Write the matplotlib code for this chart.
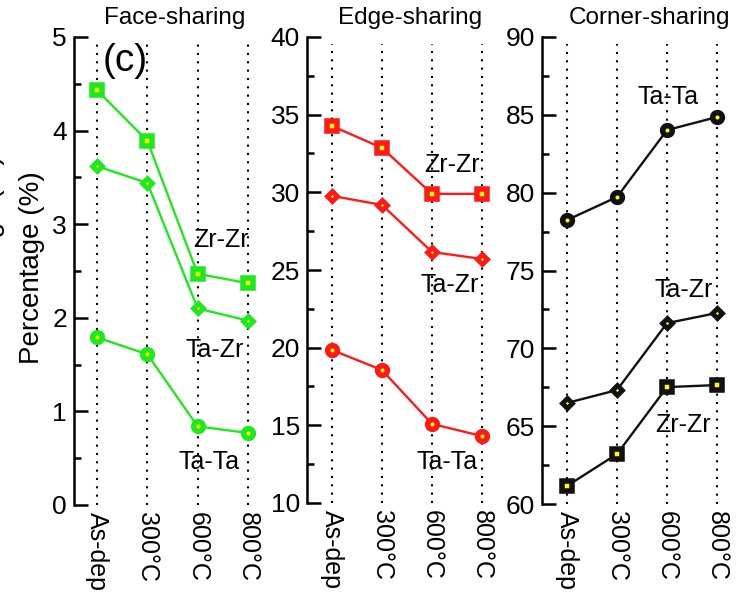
import matplotlib
matplotlib.use("Agg")
import matplotlib.pyplot as plt
from matplotlib.ticker import MultipleLocator

plt.rcParams["font.family"] = ["Liberation Sans", "DejaVu Sans"]

"""
values read off the reference figure
"""

stages = ["As-dep", "300°C", "600°C", "800°C"]

face_zrzr = [4.43, 3.89, 2.47, 2.37]
face_tazr = [3.62, 3.44, 2.10, 1.97]
face_tata = [1.79, 1.61, 0.84, 0.77]

edge_zrzr = [34.27, 32.86, 29.90, 29.90]
edge_tazr = [29.77, 29.19, 26.16, 25.71]
edge_tata = [19.85, 18.56, 15.09, 14.31]

corner_tata = [78.24, 79.72, 84.02, 84.86]
corner_tazr = [66.49, 67.32, 71.62, 72.27]
corner_zrzr = [61.16, 63.21, 67.51, 67.64]

W, H = 741, 593
fig = plt.figure(figsize=(W / 100, H / 100), dpi=100)


def px_axes(left, top, right, bottom):
    # axes box given in pixel coordinates of the reference
    return fig.add_axes([left / W, 1 - bottom / H, (right - left) / W, (bottom - top) / H])


def draw_panel(ax, series, color, ylim, step, xlim):
    x = list(range(len(stages)))
    for xi in x:
        ax.plot([xi, xi], [ylim[0], ylim[1] - (ylim[1] - ylim[0]) * 0.015], color="black",
                linestyle=(0, (1, 3)), linewidth=1.5, zorder=1)
    for values, marker, ms, mew in series:
        ax.plot(x, values, color=color, linewidth=1.7, marker=marker, markersize=ms,
                markerfacecolor="yellow", markeredgecolor=color, markeredgewidth=mew,
                zorder=3, clip_on=False)
    ax.set_xlim(*xlim)
    ax.set_ylim(*ylim)
    ax.yaxis.set_major_locator(MultipleLocator(step))
    ax.yaxis.set_minor_locator(MultipleLocator(step / 2))
    ax.set_xticks(x)
    ax.set_xticklabels(stages, rotation=-90, fontsize=18)
    ax.tick_params(axis="x", length=0, pad=5)
    ax.tick_params(axis="y", which="major", direction="in", length=10, width=1.8, labelsize=19, pad=5)
    ax.tick_params(axis="y", which="minor", direction="in", length=5, width=1.8)
    for side in ["top", "right", "bottom"]:
        ax.spines[side].set_visible(False)
    ax.spines["left"].set_linewidth(1.8)
    ax.patch.set_alpha(0)


green = "#1ee81e"
red = "#ff1a1a"
black = "#111111"

sq = ("s", 7, 4)
dm = ("D", 5.5, 3.5)
ci = ("o", 7, 4)

ax1 = px_axes(74, 37, 271, 505)
draw_panel(ax1, [(face_zrzr, *sq), (face_tazr, *dm), (face_tata, *ci)],
           green, (0, 5), 1, (-0.46, 3.46))
ax1.text(2.47, 2.83, "Zr-Zr", fontsize=18, ha="center", va="center")
ax1.text(2.33, 1.66, "Ta-Zr", fontsize=18, ha="center", va="center")
ax1.text(2.23, 0.46, "Ta-Ta", fontsize=18, ha="center", va="center")
ax1.text(0.56, 4.74, "(c)", fontsize=28, ha="center", va="center")

ax2 = px_axes(307, 37, 504, 503)
draw_panel(ax2, [(edge_zrzr, *sq), (edge_tazr, *dm), (edge_tata, *ci)],
           red, (10, 40), 5, (-0.5, 3.44))
ax2.text(2.40, 31.76, "Zr-Zr", fontsize=18, ha="center", va="center")
ax2.text(2.36, 24.04, "Ta-Zr", fontsize=18, ha="center", va="center")
ax2.text(2.30, 12.64, "Ta-Ta", fontsize=18, ha="center", va="center")

ax3 = px_axes(542, 37, 742, 504)
draw_panel(ax3, [(corner_tata, *ci), (corner_tazr, *dm), (corner_zrzr, *sq)],
           black, (60, 90), 5, (-0.5, 3.5))
ax3.text(2.02, 86.14, "Ta-Ta", fontsize=18, ha="center", va="center")
ax3.text(2.34, 73.74, "Ta-Zr", fontsize=18, ha="center", va="center")
ax3.text(2.32, 65.07, "Zr-Zr", fontsize=18, ha="center", va="center")

fig.text(175 / W, 1 - 18 / H, "Face-sharing", fontsize=17.5, ha="center", va="center")
fig.text(410 / W, 1 - 18 / H, "Edge-sharing", fontsize=17.5, ha="center", va="center")
fig.text(650 / W, 1 - 18 / H, "Corner-sharing", fontsize=17.5, ha="center", va="center")

fig.text(32 / W, 1 - 268 / H, "Percentage (%)", fontsize=20, rotation=90, ha="center", va="center")

# cropped label of the neighbouring panel at the left edge
fig.text(-8 / W, 1 - 252 / H, "Percentage (%)", fontsize=20, rotation=90, ha="center", va="center")

fig.savefig("out.png", dpi=100)
